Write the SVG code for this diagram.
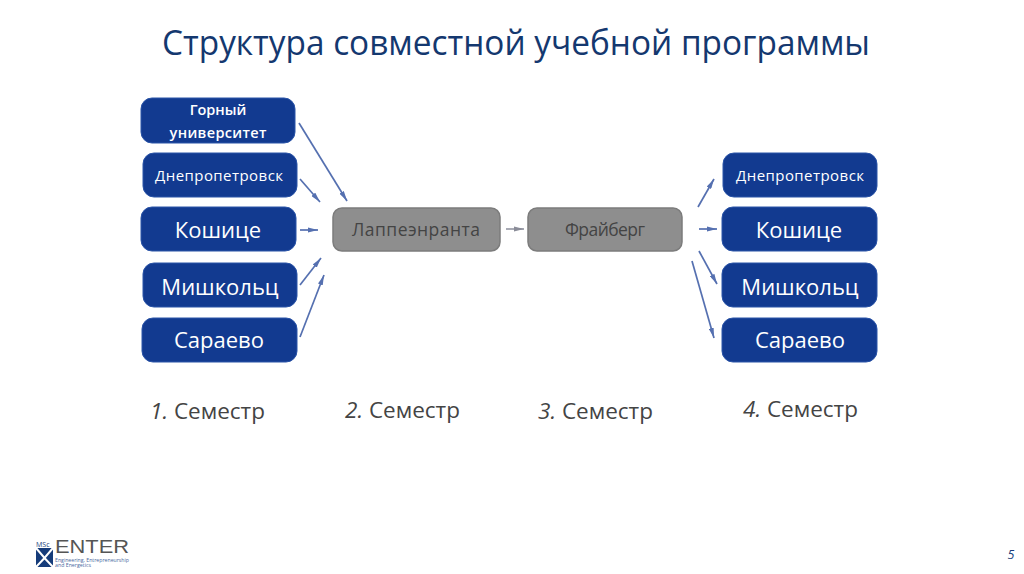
<svg xmlns="http://www.w3.org/2000/svg" width="1024" height="574" viewBox="0 0 1024 574">
<style>
text{font-family:"Open Sans","Noto Sans","Liberation Sans",sans-serif}
.b{fill:#123a90;stroke:#2a54a8;stroke-width:1}
.g{fill:#8e8e8e;stroke:#7c7c7c;stroke-width:1.5}
.t{fill:#fff;text-anchor:middle}
.l{font-size:22px}
.s{font-size:15px}
.gt{fill:#444;font-size:17.500px;text-anchor:middle}
.sem{fill:#444;font-size:22.500px}
.c line{stroke:#5570b0;stroke-width:1.7;marker-end:url(#a)}
.c line.h{stroke:#9a9ca8;marker-end:url(#ag)}
</style>
<defs>
<marker id="a" viewBox="0 0 10 5" refX="10" refY="2.500" markerWidth="6" markerHeight="3" markerUnits="strokeWidth" orient="auto"><path d="M0 0L10 2.500L0 5z" fill="#5570b0"/></marker>
<marker id="ag" viewBox="0 0 10 5" refX="10" refY="2.500" markerWidth="6" markerHeight="3" markerUnits="strokeWidth" orient="auto"><path d="M0 0L10 2.500L0 5z" fill="#8a8c98"/></marker>
</defs>
<rect width="1024" height="574" fill="#fff"/>
<text id="title" x="516" y="55" text-anchor="middle" font-size="35" fill="#14386f" textLength="708" lengthAdjust="spacingAndGlyphs">Структура совместной учебной программы</text>

<g class="c" id="connectors">
<line x1="299" y1="123" x2="347" y2="201"/>
<line x1="300" y1="179" x2="320" y2="202"/>
<line x1="300" y1="230" x2="318" y2="230"/>
<line x1="300" y1="285" x2="321" y2="258"/>
<line x1="300" y1="337" x2="324" y2="275"/>
<line class="h" x1="506" y1="229" x2="524" y2="229"/>
<line x1="698" y1="207" x2="714" y2="179"/>
<line x1="699" y1="229" x2="717" y2="229"/>
<line x1="699" y1="251" x2="717" y2="284"/>
<line x1="692" y1="261" x2="714" y2="338"/>
</g>

<g id="n1"><rect class="b" x="141" y="98" width="154" height="45" rx="11"/><text class="t" font-size="14.500" font-weight="600" x="218" y="115">Горный</text><text class="t" font-size="14.500" font-weight="600" x="218" y="138" textLength="97">университет</text></g>
<g id="n2"><rect class="b" x="143" y="153" width="154" height="44" rx="11"/><text class="t s" x="219" y="181" textLength="128">Днепропетровск</text></g>
<g id="n3"><rect class="b" x="141" y="207" width="155" height="44" rx="11"/><text class="t l" x="218" y="238">Кошице</text></g>
<g id="n4"><rect class="b" x="143" y="263" width="154" height="44" rx="11"/><text class="t l" x="220" y="295">Мишкольц</text></g>
<g id="n5"><rect class="b" x="142" y="318" width="155" height="44" rx="11"/><text class="t l" x="219" y="348">Сараево</text></g>

<g id="lpp"><rect class="g" x="333" y="208" width="167" height="43" rx="9"/><text class="gt" x="416" y="236" textLength="128">Лаппеэнранта</text></g>
<g id="frb"><rect class="g" x="528" y="208" width="154" height="43" rx="9"/><text class="gt" x="605" y="236" textLength="80">Фрайберг</text></g>

<g id="r1"><rect class="b" x="723" y="153" width="154" height="44" rx="11"/><text class="t s" x="800" y="181" textLength="128">Днепропетровск</text></g>
<g id="r2"><rect class="b" x="722" y="207" width="155" height="44" rx="11"/><text class="t l" x="799" y="238">Кошице</text></g>
<g id="r3"><rect class="b" x="722" y="263" width="155" height="44" rx="11"/><text class="t l" x="800" y="295">Мишкольц</text></g>
<g id="r4"><rect class="b" x="722" y="318" width="155" height="44" rx="11"/><text class="t l" x="800" y="348">Сараево</text></g>

<text class="sem" x="150" y="419"><tspan font-style="italic">1.</tspan> Семестр</text>
<text class="sem" x="345" y="418"><tspan font-style="italic">2.</tspan> Семестр</text>
<text class="sem" x="538" y="419"><tspan font-style="italic">3.</tspan> Семестр</text>
<text class="sem" x="743" y="417"><tspan font-style="italic">4.</tspan> Семестр</text>

<g id="logo">
<rect x="36" y="548" width="17" height="19" fill="#163c7a"/>
<path d="M36 548L44.500 558L53 548M36 567L44.500 558L53 567" fill="none" stroke="#fff" stroke-width="2"/>
<text x="36" y="547" font-size="7" fill="#163c7a">MSc</text>
<text x="55" y="553" font-size="18" fill="#555" textLength="74" lengthAdjust="spacingAndGlyphs" style="font-family:'Liberation Sans',sans-serif">ENTER</text>
<text x="55" y="561.500" font-size="4.500" fill="#4a68a0" textLength="74" lengthAdjust="spacingAndGlyphs">Engineering, Entrepreneurship</text>
<text x="55" y="567" font-size="4.500" fill="#4a68a0" textLength="36" lengthAdjust="spacingAndGlyphs">and Energetics</text>
</g>
<text x="1011" y="559" font-size="12.500" font-style="italic" fill="#163c7a" text-anchor="middle">5</text>
</svg>
